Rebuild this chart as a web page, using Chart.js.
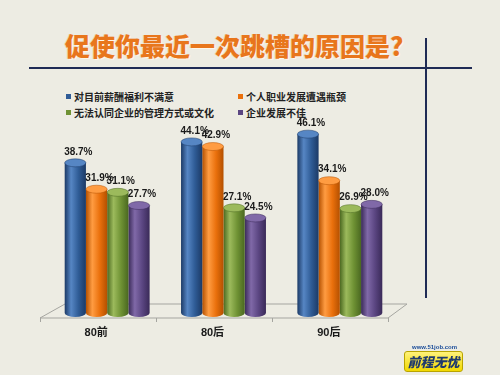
<!DOCTYPE html>
<html>
<head>
<meta charset="utf-8">
<title>促使你最近一次跳槽的原因是？</title>
<script src="https://cdn.jsdelivr.net/npm/chart.js"></script>
<style>
  body { margin: 0; background: #edece3; }
  #wrap { position: relative; width: 500px; height: 375px; overflow: hidden; background: #edece3; font-family: "Noto Sans CJK SC", sans-serif; }
  #title { position: absolute; left: 65px; top: 29px; font-size: 25px; line-height: 32px; font-weight: 900; color: #e8761c; white-space: nowrap;
           text-shadow: 1px 1px 0 #fff6e8, -1px 0 0 #f3d2b0; }
  .hline { position: absolute; left: 29px; top: 67px; width: 443px; height: 2px; background: #1f2b55; }
  .vline { position: absolute; left: 425px; top: 38px; width: 2px; height: 260px; background: #1f2b55; }
  #legend { position: absolute; left: 66px; top: 90px; width: 330px; }
  .item { position: absolute; font-size: 10px; font-weight: bold; color: #222; white-space: nowrap; line-height: 14px; }
  .item span { display: inline-block; width: 5px; height: 5px; margin-right: 3px; vertical-align: 2px; }
  #logo { position: absolute; left: 403px; top: 344px; width: 62px; height: 28px; }
  #logo .url { position: absolute; left: 9px; top: 0; font: bold 6px "Liberation Sans", sans-serif; color: #1d4e9a; }
  #logo .box { position: absolute; left: 1px; top: 7px; width: 57px; height: 19px; border-radius: 3px; border: 1px solid #b9a400;
               background: linear-gradient(#fff27a, #f2d900); text-align: center; font: italic 900 13px/19px "Noto Sans CJK SC", sans-serif; color: #1f3a6e; }
</style>
</head>
<body>
<div id="wrap">
  <div id="title">促使你最近一次跳槽的原因是?</div>
  <div class="hline"></div>
  <div class="vline"></div>
  <div id="legend"></div>
  <canvas id="myChart" width="500" height="375" style="position:absolute;left:0;top:0;"></canvas>
  <div id="logo"><div class="url">www.51job.com</div><div class="box">前程无忧</div></div>
</div>

<script>
  const categories = ['80前', '80后', '90后'];
  const seriesNames = ['对目前薪酬福利不满意', '个人职业发展遭遇瓶颈', '无法认同企业的管理方式或文化', '企业发展不佳'];
  const dissatisfiedPay = [38.7, 44.1, 46.1];
  const careerBottleneck = [31.9, 42.9, 34.1];
  const cultureMismatch = [31.1, 27.1, 26.9];
  const companyDecline = [27.7, 24.5, 28.0];

  // base / light / dark shade for each cylinder
  const colors = [
    ['#2f5c96', '#5686c4', '#1c3a66'],
    ['#ea700c', '#ff9c42', '#b45000'],
    ['#6f9234', '#9cba5c', '#4a6820'],
    ['#5b4682', '#8069a8', '#3a2a58']
  ];

  // legend (2 columns)
  const legend = document.getElementById('legend');
  seriesNames.forEach(function (name, i) {
    const d = document.createElement('div');
    d.className = 'item';
    d.style.left = (i % 2 === 0 ? 0 : 172) + 'px';
    d.style.top = (Math.floor(i / 2) * 16) + 'px';
    d.innerHTML = '<span style="background:' + colors[i][0] + '"></span>' + name;
    legend.appendChild(d);
  });

  const cylinders = {
    id: 'cylinders',
    beforeDatasetsDraw(chart) {
      const c = chart.ctx, a = chart.chartArea;
      // 3d floor, drawn a bit left of the bars
      const front = a.bottom + 5, back = a.bottom - 9;
      const fl = a.left - 9, fr = a.right - 10;
      c.save();
      c.strokeStyle = '#a5a5a0';
      c.lineWidth = 1;
      c.beginPath();
      c.moveTo(fl, front); c.lineTo(fr, front);
      c.lineTo(a.right + 9, back); c.lineTo(a.left + 16, back);
      c.closePath();
      c.stroke();
      const step = (fr - fl) / categories.length;
      for (let i = 0; i <= categories.length; i++) {
        const x = Math.round(fl + i * step) + 0.5;
        c.beginPath(); c.moveTo(x, front); c.lineTo(x, front + 4); c.stroke();
      }
      // gradients + rounded bottoms
      chart.data.datasets.forEach(function (ds, di) {
        chart.getDatasetMeta(di).data.forEach(function (el) {
          const l = el.x - el.width / 2, r = el.x + el.width / 2;
          const g = c.createLinearGradient(l, 0, r, 0);
          g.addColorStop(0, colors[di][2]);
          g.addColorStop(0.3, colors[di][1]);
          g.addColorStop(0.65, colors[di][0]);
          g.addColorStop(1, colors[di][2]);
          el.options = Object.assign({}, el.options, { backgroundColor: g });
          c.fillStyle = g;
          c.beginPath();
          c.ellipse(el.x, el.base, el.width / 2, 4, 0, 0, Math.PI);
          c.fill();
        });
      });
      c.restore();
    },
    afterDatasetsDraw(chart) {
      const c = chart.ctx;
      c.save();
      chart.data.datasets.forEach(function (ds, di) {
        chart.getDatasetMeta(di).data.forEach(function (el, i) {
          c.fillStyle = colors[di][1];
          c.strokeStyle = colors[di][2];
          c.lineWidth = 0.5;
          c.beginPath();
          c.ellipse(el.x, el.y, el.width / 2, 4, 0, 0, Math.PI * 2);
          c.fill(); c.stroke();
          c.fillStyle = '#1a1a1a';
          c.font = 'bold 10px "Liberation Sans", sans-serif';
          c.textAlign = 'center';
          c.textBaseline = 'middle';
          c.fillText(ds.data[i].toFixed(1) + '%', el.x + 3, el.y - 11);
        });
      });
      c.restore();
    }
  };

  const values = [dissatisfiedPay, careerBottleneck, cultureMismatch, companyDecline];

  new Chart(document.getElementById('myChart'), {
    type: 'bar',
    data: {
      labels: categories,
      datasets: values.map(function (v, i) {
        return { label: seriesNames[i], data: v, backgroundColor: colors[i][0], borderWidth: 0 };
      })
    },
    options: {
      responsive: false,
      animation: false,
      events: [],
      categoryPercentage: 0.73,
      barPercentage: 1,
      layout: { padding: { left: 49, right: 102, top: 119, bottom: 18 } },
      plugins: { legend: { display: false }, tooltip: { enabled: false } },
      scales: {
        y: { display: false, min: 0, max: 50 },
        x: {
          grid: { display: false },
          border: { display: false },
          ticks: { color: '#1a1a1a', padding: 5, labelOffset: -11, maxRotation: 0, font: { size: 11, weight: 'bold', family: '"Liberation Sans", "Noto Sans CJK SC", sans-serif' } },
          afterFit: function (scale) { scale.height = 44; }
        }
      }
    },
    plugins: [cylinders]
  });
</script>
</body>
</html>
